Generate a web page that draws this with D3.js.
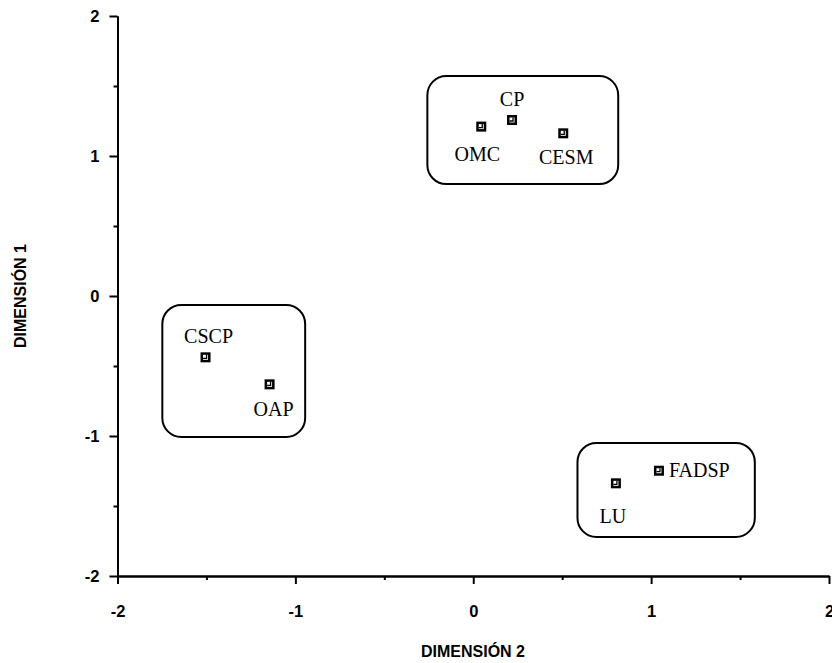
<!DOCTYPE html>
<html><head><meta charset="utf-8">
<script src="https://cdn.jsdelivr.net/npm/d3@7"></script>
<style>body{margin:0;background:#fff}</style>
</head><body>
<svg id="c" width="832" height="663"></svg>
<script>
const labels = ["OMC","CP","CESM","CSCP","OAP","FADSP","LU"];
const dim2 = [0.045, 0.218, 0.506, -1.505, -1.145, 1.044, 0.802];
const dim1 = [1.21, 1.257, 1.162, -0.438, -0.631, -1.248, -1.338];
const labelPos = ["below","above","below","above","below","right","below"];
const majorTicks = [-2,-1,0,1,2];
const minorTicks = [-1.5,-0.5,0.5,1.5];
// cluster boxes in data units: [x0, x1, y0, y1]
const clusterX0 = [-0.258, -1.748, 0.586];
const clusterX1 = [0.815, -0.945, 1.583];
const clusterY0 = [1.571, -0.064, -1.05];
const clusterY1 = [0.80, -1.007, -1.721];

const svg = d3.select("#c");
const x = d3.scaleLinear().domain([-2,2]).range([117.5,829]);
const y = d3.scaleLinear().domain([-2,2]).range([576,16]);

const sans = "'Liberation Sans', Arial, sans-serif";
const serif = "'Liberation Serif', 'Times New Roman', serif";

// boxes
svg.append("g").selectAll("rect").data(clusterX0).join("rect")
  .attr("x",(d,i)=>x(clusterX0[i]))
  .attr("y",(d,i)=>y(clusterY0[i]))
  .attr("width",(d,i)=>x(clusterX1[i])-x(clusterX0[i]))
  .attr("height",(d,i)=>y(clusterY1[i])-y(clusterY0[i]))
  .attr("rx",19).attr("ry",19)
  .attr("fill","none").attr("stroke","#000").attr("stroke-width",2);

const fmt = d => String(d);
// axes
const gy = svg.append("g").attr("transform",`translate(${x(-2)},0)`);
gy.call(d3.axisLeft(y).tickValues(majorTicks).tickSize(8).tickSizeOuter(0).tickPadding(10).tickFormat(fmt));
const gy2 = svg.append("g").attr("transform",`translate(${x(-2)},0)`);
gy2.call(d3.axisLeft(y).tickValues(minorTicks).tickSize(4).tickSizeOuter(0).tickFormat(""));
const gx = svg.append("g").attr("transform",`translate(0,${y(-2)})`);
gx.call(d3.axisBottom(x).tickValues(majorTicks).tickSize(8).tickSizeOuter(0).tickPadding(21).tickFormat(fmt));
const gx2 = svg.append("g").attr("transform",`translate(0,${y(-2)})`);
gx2.call(d3.axisBottom(x).tickValues(minorTicks).tickSize(4).tickSizeOuter(0).tickFormat(""));
[gy,gy2,gx,gx2].forEach(g=>{
  g.selectAll("path,line").attr("stroke","#000").attr("stroke-width",2);
  g.selectAll("text").attr("font-family",sans).attr("font-weight","bold").attr("font-size",16.5).attr("fill","#000");
});
gx.selectAll("text").attr("dy","0.71em");

// axis titles
svg.append("text").attr("x",473).attr("y",657).attr("text-anchor","middle")
  .attr("font-family",sans).attr("font-weight","bold").attr("font-size",16).text("DIMENSIÓN 2");
svg.append("text").attr("transform",`translate(26,${y(0)}) rotate(-90)`).attr("text-anchor","middle")
  .attr("font-family",sans).attr("font-weight","bold").attr("font-size",16).text("DIMENSIÓN 1");

// points
const pts = svg.append("g").selectAll("g").data(labels).join("g")
  .attr("transform",(d,i)=>`translate(${x(dim2[i])},${y(dim1[i])})`);
pts.append("rect").attr("x",-5).attr("y",-5).attr("width",10).attr("height",10).attr("fill","#000");
pts.append("rect").attr("x",-2.5).attr("y",-2.5).attr("width",5).attr("height",5).attr("fill","#fff");
pts.append("path").attr("d","M-2.5,1 L1,1 L1,-2.5").attr("stroke","#000").attr("stroke-width",1.3).attr("fill","none");

// labels
const dxMap = {OMC:-4, CP:0, CESM:3, CSCP:3, OAP:4, FADSP:10, LU:-3};
const dyMap = {OMC:34, CP:-14, CESM:31, CSCP:-14, OAP:32, FADSP:6, LU:40};
pts.append("text")
  .attr("font-family",serif).attr("font-size",20).attr("fill","#000")
  .attr("text-anchor",(d,i)=>labelPos[i]==="right"?"start":"middle")
  .attr("x",d=>dxMap[d])
  .attr("y",d=>dyMap[d])
  .text(d=>d);
</script>
</body></html>
